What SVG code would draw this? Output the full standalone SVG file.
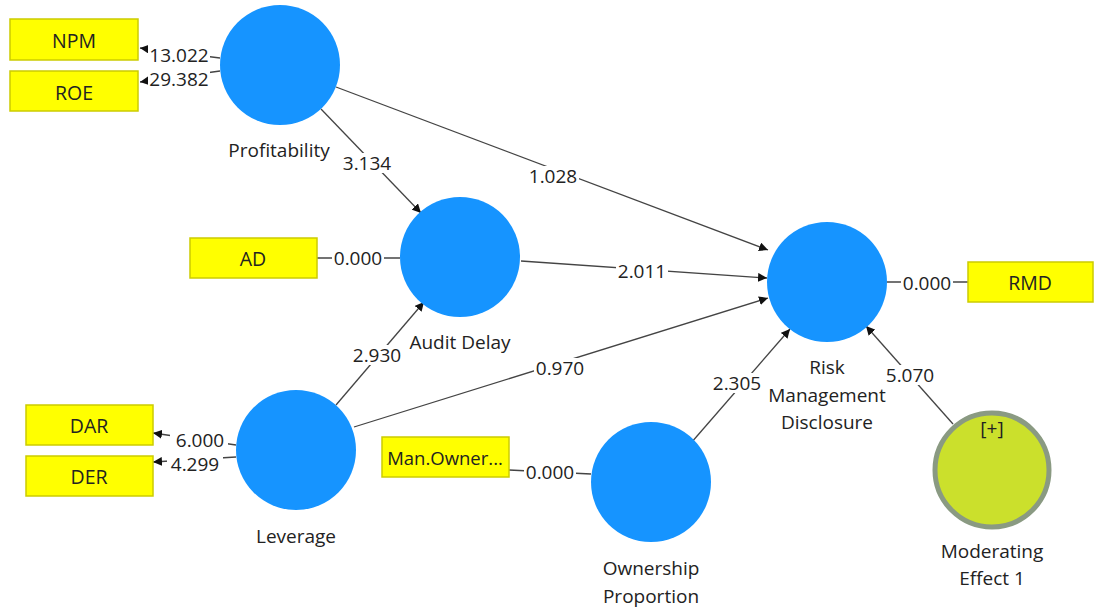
<svg xmlns="http://www.w3.org/2000/svg" width="1094" height="608" viewBox="0 0 1094 608">
<defs>
<marker id="arr" viewBox="0 0 10 10" refX="10" refY="5" markerWidth="9" markerHeight="9" markerUnits="userSpaceOnUse" orient="auto">
<path d="M0,0 L10,5 L0,10 z" fill="#111"/>
</marker>
<style>
text{font-family:"Open Sans","Noto Sans","DejaVu Sans",sans-serif;fill:#222;text-anchor:middle;dominant-baseline:central;}
.lv{fill:#1694ff;}
.ind rect{fill:#ffff00;stroke:#cccc00;stroke-width:1.5;}
.ind text{font-size:19.5px;}
.nl{font-size:19px;}
.c line{stroke:#444;stroke-width:1.3;}
.c .a{marker-end:url(#arr);}
.c rect{fill:#fff;}
.c text{font-size:19px;}
</style>
</defs>
<rect width="1094" height="608" fill="#fff"/>
<g id="connectors" class="c">
<line class="a" x1="220" y1="58" x2="140" y2="48"/>
<line class="a" x1="220" y1="71" x2="140" y2="82"/>
<line class="a" x1="321" y1="109" x2="421" y2="213"/>
<line class="a" x1="336" y1="87" x2="768" y2="250"/>
<line x1="317" y1="258" x2="400" y2="258"/>
<line class="a" x1="521" y1="261" x2="767" y2="278"/>
<line class="a" x1="336" y1="405" x2="424" y2="302"/>
<line class="a" x1="354" y1="427" x2="768" y2="298"/>
<line class="a" x1="236" y1="445" x2="153" y2="433"/>
<line class="a" x1="236" y1="457" x2="153" y2="462"/>
<line x1="509" y1="470" x2="591" y2="474"/>
<line class="a" x1="691" y1="443" x2="790" y2="329"/>
<line class="a" x1="953" y1="424" x2="866" y2="326"/>
<line x1="887" y1="282" x2="968" y2="282"/>
<rect x="148" y="45" width="62" height="20"/><text x="179" y="55">13.022</text>
<rect x="148" y="69" width="62" height="21"/><text x="179" y="79">29.382</text>
<rect x="341" y="153" width="52" height="20"/><text x="367" y="163">3.134</text>
<rect x="527" y="166" width="52" height="20"/><text x="553" y="176">1.028</text>
<rect x="332" y="248" width="52" height="20"/><text x="358" y="258">0.000</text>
<rect x="616" y="261" width="52" height="20"/><text x="642" y="271">2.011</text>
<rect x="351" y="345" width="52" height="20"/><text x="377" y="355">2.930</text>
<rect x="534" y="358" width="52" height="20"/><text x="560" y="368">0.970</text>
<rect x="170" y="430" width="58" height="20"/><text x="200" y="440">6.000</text>
<rect x="167" y="454" width="56" height="20"/><text x="195" y="464">4.299</text>
<rect x="524" y="462" width="52" height="20"/><text x="550" y="472">0.000</text>
<rect x="711" y="373" width="52" height="20"/><text x="737" y="383">2.305</text>
<rect x="884" y="365" width="52" height="20"/><text x="910" y="375">5.070</text>
<rect x="901" y="273" width="52" height="20"/><text x="927" y="283">0.000</text>
</g>
<g id="NPM" class="ind"><rect x="10" y="19" width="128" height="41"/><text x="74" y="40">NPM</text></g>
<g id="ROE" class="ind"><rect x="10" y="71" width="128" height="40"/><text x="74" y="92">ROE</text></g>
<g id="AD" class="ind"><rect x="190" y="238" width="127" height="40"/><text x="253" y="258">AD</text></g>
<g id="DAR" class="ind"><rect x="26" y="405" width="127" height="40"/><text x="89" y="425">DAR</text></g>
<g id="DER" class="ind"><rect x="26" y="456" width="127" height="40"/><text x="89" y="476">DER</text></g>
<g id="ManOwner" class="ind"><rect x="382" y="437" width="127" height="40"/><text x="445" y="457" style="font-size:18.5px">Man.Owner...</text></g>
<g id="RMD" class="ind"><rect x="968" y="262" width="125" height="40"/><text x="1030" y="282">RMD</text></g>
<g id="Profitability"><circle class="lv" cx="280" cy="65" r="60"/><text class="nl" x="279" y="150">Profitability</text></g>
<g id="AuditDelay"><circle class="lv" cx="460" cy="257" r="60"/><text class="nl" x="460" y="342">Audit Delay</text></g>
<g id="Leverage"><circle class="lv" cx="296" cy="450" r="60"/><text class="nl" x="296" y="536">Leverage</text></g>
<g id="OwnershipProportion"><circle class="lv" cx="651" cy="482" r="60"/><text class="nl" x="651" y="568">Ownership</text><text class="nl" x="651" y="596">Proportion</text></g>
<g id="RiskManagementDisclosure"><circle class="lv" cx="827" cy="282" r="60"/><text class="nl" x="827" y="367">Risk</text><text class="nl" x="827" y="395">Management</text><text class="nl" x="827" y="422">Disclosure</text></g>
<g id="ModeratingEffect1"><circle cx="992" cy="470" r="57" fill="#cbe02c" stroke="#8a9a82" stroke-width="5"/><text class="nl" x="992" y="428">[+]</text><text class="nl" x="992" y="551">Moderating</text><text class="nl" x="992" y="578">Effect 1</text></g>
</svg>
